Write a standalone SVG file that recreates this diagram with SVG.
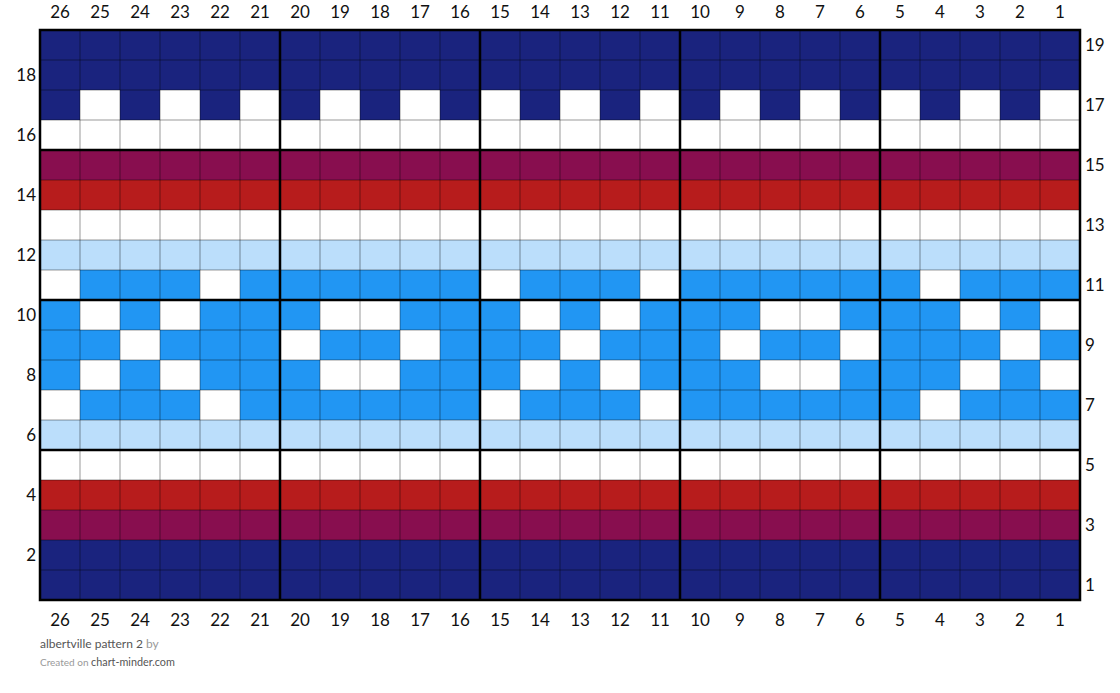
<svg xmlns="http://www.w3.org/2000/svg" width="1120" height="693" viewBox="0 0 1120 693">
<style>
.n{fill:#1a237e}.p{fill:#880e4f}.r{fill:#b71c1c}.lb{fill:#bbdefb}.b{fill:#2196f3}.w{fill:#ffffff}
.num{font-family:Lato,"Liberation Sans",sans-serif;font-size:17px;fill:#111}
.t{text-anchor:middle}.e{text-anchor:end}
.thin{stroke:#000;stroke-opacity:0.4;stroke-width:1;fill:none}
.thick{stroke:#000;stroke-width:2.5;fill:none}
.f1{font-family:Lato,"Liberation Sans",sans-serif;font-size:12px;fill:#555}
.f2{font-family:Lato,"Liberation Sans",sans-serif;font-size:10px;fill:#999}
</style>
<defs>
<g id="w711"><rect class="w" x="40" y="0" width="40" height="30"/><rect class="w" x="200" y="0" width="40" height="30"/><rect class="w" x="480" y="0" width="40" height="30"/><rect class="w" x="640" y="0" width="40" height="30"/><rect class="w" x="920" y="0" width="40" height="30"/></g>
<g id="w810"><rect class="w" x="80" y="0" width="40" height="30"/><rect class="w" x="160" y="0" width="40" height="30"/><rect class="w" x="320" y="0" width="80" height="30"/><rect class="w" x="520" y="0" width="40" height="30"/><rect class="w" x="600" y="0" width="40" height="30"/><rect class="w" x="760" y="0" width="80" height="30"/><rect class="w" x="960" y="0" width="40" height="30"/><rect class="w" x="1040" y="0" width="40" height="30"/></g>
</defs>
<rect width="1120" height="693" fill="#fff"/>
<g id="rows">
<rect class="n" x="40" y="30" width="1040" height="60"/>
<rect class="w" x="40" y="90" width="1040" height="60"/>
<g id="row17">
<rect class="n" x="40" y="90" width="40" height="30"/><rect class="n" x="120" y="90" width="40" height="30"/><rect class="n" x="200" y="90" width="40" height="30"/><rect class="n" x="280" y="90" width="40" height="30"/><rect class="n" x="360" y="90" width="40" height="30"/><rect class="n" x="440" y="90" width="40" height="30"/><rect class="n" x="520" y="90" width="40" height="30"/><rect class="n" x="600" y="90" width="40" height="30"/><rect class="n" x="680" y="90" width="40" height="30"/><rect class="n" x="760" y="90" width="40" height="30"/><rect class="n" x="840" y="90" width="40" height="30"/><rect class="n" x="920" y="90" width="40" height="30"/><rect class="n" x="1000" y="90" width="40" height="30"/>
</g>
<rect class="p" x="40" y="150" width="1040" height="30"/>
<rect class="r" x="40" y="180" width="1040" height="30"/>
<rect class="w" x="40" y="210" width="1040" height="30"/>
<rect class="lb" x="40" y="240" width="1040" height="30"/>
<rect class="b" x="40" y="270" width="1040" height="150"/>
<use href="#w711" y="270"/>
<use href="#w810" y="300"/>
<g id="row9">
<rect class="w" x="120" y="330" width="40" height="30"/><rect class="w" x="280" y="330" width="40" height="30"/><rect class="w" x="400" y="330" width="40" height="30"/><rect class="w" x="560" y="330" width="40" height="30"/><rect class="w" x="720" y="330" width="40" height="30"/><rect class="w" x="840" y="330" width="40" height="30"/><rect class="w" x="1000" y="330" width="40" height="30"/>
</g>
<use href="#w810" y="360"/>
<use href="#w711" y="390"/>
<rect class="lb" x="40" y="420" width="1040" height="30"/>
<rect class="w" x="40" y="450" width="1040" height="30"/>
<rect class="r" x="40" y="480" width="1040" height="30"/>
<rect class="p" x="40" y="510" width="1040" height="30"/>
<rect class="n" x="40" y="540" width="1040" height="60"/>
</g>
<g id="grid">
<path class="thin" d="M80 30V600M120 30V600M160 30V600M200 30V600M240 30V600M320 30V600M360 30V600M400 30V600M440 30V600M520 30V600M560 30V600M600 30V600M640 30V600M720 30V600M760 30V600M800 30V600M840 30V600M920 30V600M960 30V600M1000 30V600M1040 30V600M40 60H1080M40 90H1080M40 120H1080M40 180H1080M40 210H1080M40 240H1080M40 270H1080M40 330H1080M40 360H1080M40 390H1080M40 420H1080M40 480H1080M40 510H1080M40 540H1080M40 570H1080"/>
<path class="thick" d="M40 30H1080V600H40ZM280 30V600M480 30V600M680 30V600M880 30V600M40 150H1080M40 300H1080M40 450H1080"/>
</g>
<g id="top-labels" class="num t">
<text x="60" y="18">26</text><text x="100" y="18">25</text><text x="140" y="18">24</text><text x="180" y="18">23</text><text x="220" y="18">22</text><text x="260" y="18">21</text><text x="300" y="18">20</text><text x="340" y="18">19</text><text x="380" y="18">18</text><text x="420" y="18">17</text><text x="460" y="18">16</text><text x="500" y="18">15</text><text x="540" y="18">14</text><text x="580" y="18">13</text><text x="620" y="18">12</text><text x="660" y="18">11</text><text x="700" y="18">10</text><text x="740" y="18">9</text><text x="780" y="18">8</text><text x="820" y="18">7</text><text x="860" y="18">6</text><text x="900" y="18">5</text><text x="940" y="18">4</text><text x="980" y="18">3</text><text x="1020" y="18">2</text><text x="1060" y="18">1</text>
</g>
<g id="bottom-labels" class="num t">
<text x="60" y="626">26</text><text x="100" y="626">25</text><text x="140" y="626">24</text><text x="180" y="626">23</text><text x="220" y="626">22</text><text x="260" y="626">21</text><text x="300" y="626">20</text><text x="340" y="626">19</text><text x="380" y="626">18</text><text x="420" y="626">17</text><text x="460" y="626">16</text><text x="500" y="626">15</text><text x="540" y="626">14</text><text x="580" y="626">13</text><text x="620" y="626">12</text><text x="660" y="626">11</text><text x="700" y="626">10</text><text x="740" y="626">9</text><text x="780" y="626">8</text><text x="820" y="626">7</text><text x="860" y="626">6</text><text x="900" y="626">5</text><text x="940" y="626">4</text><text x="980" y="626">3</text><text x="1020" y="626">2</text><text x="1060" y="626">1</text>
</g>
<g id="left-labels" class="num e">
<text x="36" y="81">18</text><text x="36" y="141">16</text><text x="36" y="201">14</text><text x="36" y="261">12</text><text x="36" y="321">10</text><text x="36" y="381">8</text><text x="36" y="441">6</text><text x="36" y="501">4</text><text x="36" y="561">2</text>
</g>
<g id="right-labels" class="num">
<text x="1085" y="51">19</text><text x="1085" y="111">17</text><text x="1085" y="171">15</text><text x="1085" y="231">13</text><text x="1085" y="291">11</text><text x="1085" y="351">9</text><text x="1085" y="411">7</text><text x="1085" y="471">5</text><text x="1085" y="531">3</text><text x="1085" y="591">1</text>
</g>
<g id="footer">
<text x="40" y="648" class="f1">albertville pattern 2 <tspan fill="#999">by</tspan></text>
<text x="40" y="666" class="f2">Created on <tspan fill="#555" font-size="10.8">chart-minder.com</tspan></text>
</g>
</svg>
